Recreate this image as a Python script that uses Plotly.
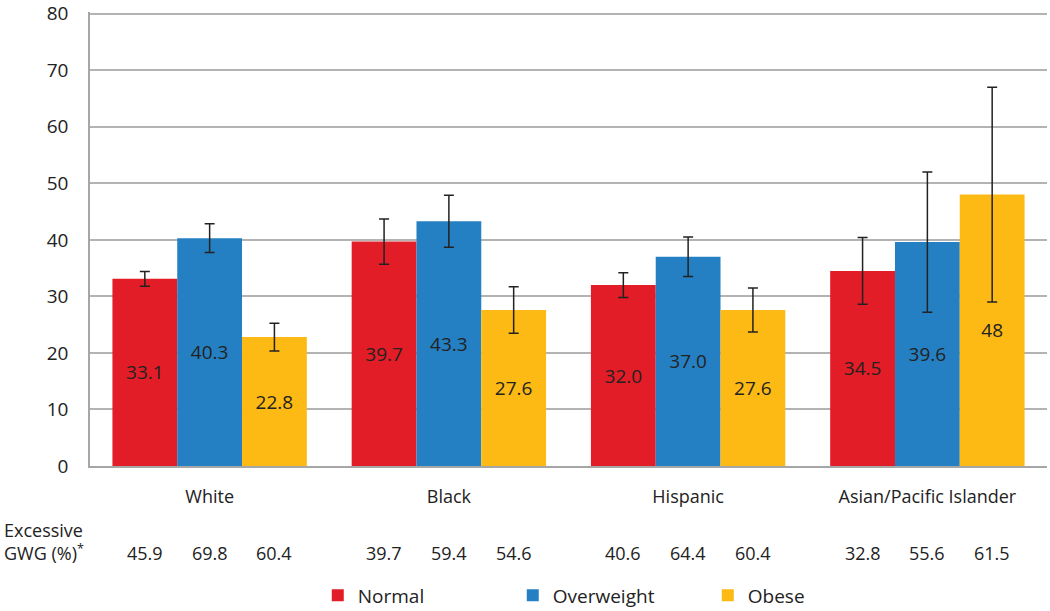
import plotly.graph_objects as go

groups = ["White", "Black", "Hispanic", "Asian/Pacific Islander"]

normal = [33.1, 39.7, 32.0, 34.5]
overweight = [40.3, 43.3, 37.0, 39.6]
obese = [22.8, 27.6, 27.6, 48]

normal_txt = ["33.1", "39.7", "32.0", "34.5"]
overweight_txt = ["40.3", "43.3", "37.0", "39.6"]
obese_txt = ["22.8", "27.6", "27.6", "48"]

normal_err = [1.3, 4.0, 2.2, 5.9]
overweight_err = [2.55, 4.6, 3.5, 12.4]
obese_err = [2.45, 4.1, 3.9, 19.0]

# excessive GWG (%) row under the chart
gwg_normal = ["45.9", "39.7", "40.6", "32.8"]
gwg_overweight = ["69.8", "59.4", "64.4", "55.6"]
gwg_obese = ["60.4", "54.6", "60.4", "61.5"]

red = "#e21d27"
blue = "#2580c3"
yellow = "#fdb914"
txt = "#222222"
font = "Open Sans"

bargap = 0.1875
xs = list(range(len(groups)))


def bars(name, vals, labels, err, color):
    return go.Bar(
        name=name, x=xs, y=vals, text=labels,
        textposition="inside", insidetextanchor="middle",
        textfont=dict(family=font, size=19, color=txt),
        marker=dict(color=color, line=dict(width=0)),
        error_y=dict(type="data", array=err, color="#222222",
                     thickness=1.5, width=5),
    )


fig = go.Figure([
    bars("Normal", normal, normal_txt, normal_err, red),
    bars("Overweight", overweight, overweight_txt, overweight_err, blue),
    bars("Obese", obese, obese_txt, obese_err, yellow),
])

# GWG values sit under each bar
w = (1 - bargap) / 3
for k, row in enumerate([gwg_normal, gwg_overweight, gwg_obese]):
    for i, v in enumerate(row):
        fig.add_annotation(x=i + (k - 1) * w, y=-0.192, xref="x", yref="paper",
                           text=v, showarrow=False, yanchor="middle",
                           font=dict(family=font, size=18, color=txt))

fig.add_annotation(x=-0.092, y=-0.166, xref="paper", yref="paper",
                   text="Excessive<br>GWG (%)<sup>*</sup>", showarrow=False,
                   xanchor="left", yanchor="middle", align="left",
                   font=dict(family=font, size=18, color=txt))

fig.update_layout(
    width=1050, height=611,
    margin=dict(l=90, r=3, t=12, b=145, autoexpand=False),
    paper_bgcolor="white", plot_bgcolor="white",
    barmode="group", bargap=bargap, bargroupgap=0,
    font=dict(family=font, size=19, color=txt),
    legend=dict(orientation="h", x=0.238, y=-0.285, xanchor="left",
                yanchor="middle", entrywidth=150,
                font=dict(family=font, size=19, color=txt)),
    xaxis=dict(tickvals=xs, ticktext=groups, range=[-0.5, 3.5],
               showline=True, linecolor="#a6a6a6", linewidth=1.5,
               ticks="", ticklabelstandoff=14, showgrid=False,
               automargin=False,
               tickfont=dict(family=font, size=18, color=txt)),
    yaxis=dict(range=[0, 80.3], tickvals=[0, 10, 20, 30, 40, 50, 60, 70, 80],
               showgrid=True, gridcolor="#b3b3b3",
               gridwidth=1.5, showline=True, linecolor="#a6a6a6",
               linewidth=1.5, zeroline=False, ticks="", ticklabelstandoff=16,
               automargin=False,
               tickfont=dict(family=font, size=19, color=txt)),
)

# drop the default body margin so the figure fills the window exactly
fig.write_html("out.html", config={"displayModeBar": False},
               post_script="document.body.style.margin='0';")
